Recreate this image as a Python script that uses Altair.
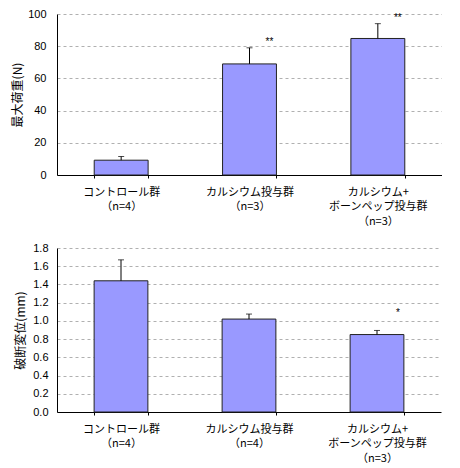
import altair as alt
import pandas as pd

# --- data ---
cats_top = ["コントロール群\n（n=4）", "カルシウム投与群\n（n=3）", "カルシウム+\nボーンペップ投与群\n（n=3）"]
load_mean = [9.2, 69.0, 84.8]
load_err = [2.3, 10.0, 9.2]
stars_top = ["", "**", "**"]

cats_bottom = ["コントロール群\n（n=4）", "カルシウム投与群\n（n=4）", "カルシウム+\nボーンペップ投与群\n（n=3）"]
disp_mean = [1.44, 1.02, 0.85]
disp_err = [0.23, 0.055, 0.045]
stars_bottom = ["", "", "*"]

y_ticks_top = [0, 20, 40, 60, 80, 100]
y_ticks_bottom = [0.0, 0.2, 0.4, 0.6, 0.8, 1.0, 1.2, 1.4, 1.6, 1.8]

CJK = "Noto Sans CJK JP"
NUM = "Liberation Sans"
BAR = "#9999ff"


def panel(cats, mean, err, stars, ytitle, ticks, fmt, width, height, lab_pad, title_pad, star_dy, star_dx):
    df = pd.DataFrame({
        "cat": cats,
        "mean": mean,
        "top": [m + e for m, e in zip(mean, err)],
        "star": stars,
    })
    x_axis = alt.Axis(
        title=None,
        labelAngle=0,
        labelExpr="split(datum.label, '\\n')",
        labelFont=CJK,
        labelFontSize=11,
        labelColor="#000000",
        labelLineHeight=14.5,
        labelBaseline="top",
        labelPadding=8,
        tickBand="extent",
        tickSize=3,
        tickColor="#000000",
        domainColor="#000000",
        grid=False,
    )
    x_scale = alt.Scale(paddingInner=0.58, paddingOuter=0.29)
    y_scale = alt.Scale(domain=[ticks[0], ticks[-1]], nice=False)
    y_axis = alt.Axis(
        title=ytitle,
        titleFont=CJK,
        titleFontSize=12,
        titleFontWeight="normal",
        titleColor="#000000",
        titlePadding=title_pad,
        values=ticks,
        tickCount=len(ticks),
        format=fmt,
        labelOverlap=False,
        labelFont=NUM,
        labelFontSize=11,
        labelColor="#000000",
        labelPadding=lab_pad,
        ticks=False,
        domainColor="#000000",
        grid=True,
        gridColor="#b0b0b0",
        gridDash=[3, 3],
        gridWidth=1,
    )

    def X():
        return alt.X("cat:N", sort=None, scale=x_scale, axis=x_axis)

    def Y(field):
        return alt.Y(field, type="quantitative", scale=y_scale, axis=y_axis)

    base = alt.Chart(df)
    bars = base.mark_bar(fill=BAR, stroke="#222222", strokeWidth=1).encode(x=X(), y=Y("mean"))
    rule = base.mark_rule(color="#000000", strokeWidth=1).encode(x=X(), y=Y("mean"), y2="top")
    cap = base.mark_tick(color="#000000", size=6, thickness=1, orient="horizontal").encode(x=X(), y=Y("top"))
    star = base.mark_text(font=NUM, fontSize=10, color="#000000", dx=star_dx, dy=star_dy,
                          baseline="middle").encode(x=X(), y=Y("top"), text="star:N")
    return alt.layer(bars, rule, cap, star).properties(width=width, height=height)


top = panel(cats_top, load_mean, load_err, stars_top, "最大荷重(N)", y_ticks_top, "d",
            385, 161, 11, 3, -6, 20)
bottom = panel(cats_bottom, disp_mean, disp_err, stars_bottom, "破断変位(mm)", y_ticks_bottom, ".1f",
               384, 164, 9, 5, -17, 21)

chart = alt.concat(top, bottom, columns=1, spacing=11).properties(
    padding={"left": 3, "top": 0, "right": 0, "bottom": 0}
).configure_view(stroke=None)

chart.save("out.html", embed_options={"renderer": "svg", "actions": False})
